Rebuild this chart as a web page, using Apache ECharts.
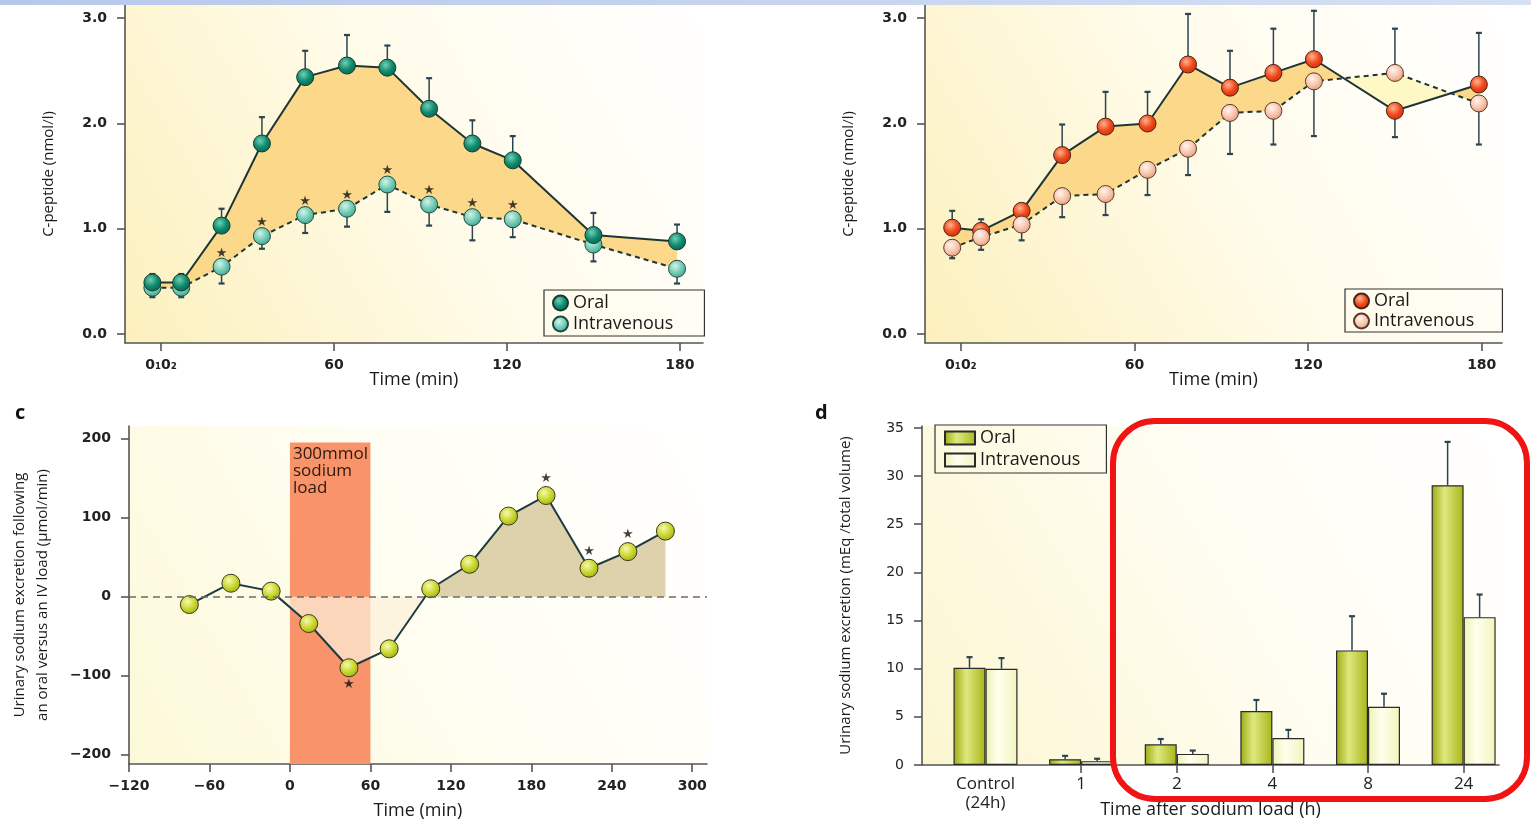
<!DOCTYPE html>
<html>
<head>
<meta charset="utf-8">
<script src="https://cdn.jsdelivr.net/npm/echarts@6.0.0/dist/echarts.min.js"></script>
<style>
  html, body { margin: 0; padding: 0; background: #fff; }
  #main { width: 1531px; height: 820px; }
</style>
</head>
<body>
<div id="main"></div>
<script>
// panels a & b: sampling times in minutes (first two are the 0_1 / 0_2 baseline samples)
var timesAB = [-3, 7, 21, 35, 50, 64.5, 78.5, 93, 108, 122, 150, 179];
var tickAB = [0, 60, 120, 180];

// panel a: C-peptide (nmol/l)
var oralA = [0.49, 0.49, 1.03, 1.81, 2.44, 2.55, 2.53, 2.14, 1.81, 1.65, 0.94, 0.88];
var ivA = [0.44, 0.44, 0.64, 0.93, 1.13, 1.19, 1.42, 1.23, 1.11, 1.09, 0.85, 0.62];
var oralTipA = [0.57, 0.57, 1.19, 2.06, 2.69, 2.84, 2.74, 2.43, 2.03, 1.88, 1.15, 1.04];
var ivTipA = [0.35, 0.35, 0.48, 0.81, 0.96, 1.02, 1.16, 1.03, 0.89, 0.92, 0.69, 0.48];
var starsA = [2, 3, 4, 5, 6, 7, 8, 9];

// panel b
var oralB = [1.01, 0.98, 1.17, 1.70, 1.97, 2.00, 2.56, 2.34, 2.48, 2.61, 2.12, 2.37];
var ivB = [0.82, 0.92, 1.04, 1.31, 1.33, 1.56, 1.76, 2.10, 2.12, 2.40, 2.48, 2.19];
var oralTipB = [1.17, 1.09, null, 1.99, 2.30, 2.30, 3.04, 2.69, 2.90, 3.07, 1.87, 2.86];
var ivTipB = [0.72, 0.80, 0.89, 1.11, 1.13, 1.32, 1.51, 1.71, 1.80, 1.88, 2.90, 1.80];

// panel c: oral minus IV urinary sodium excretion (umol/min)
var timesC = [-75, -44, -14, 14, 44, 74, 105, 134, 163, 191, 223, 252, 280];
var diffC = [-10, 17, 7, -34, -90, -66, 10, 41, 102, 128, 36, 57, 83];
var starsAboveC = [9, 10, 11];
var starsBelowC = [4];
var tickCx = [-120, -60, 0, 60, 120, 180, 240, 300];
var tickCy = [-200, -100, 0, 100, 200];

// panel d: urinary sodium excretion (mEq/total volume)
var catsD = ['Control\n(24h)', '1', '2', '4', '8', '24'];
var oralD = [10.1, 0.6, 2.15, 5.6, 11.9, 29.05];
var ivD = [10.0, 0.4, 1.15, 2.8, 6.05, 15.35];
var oralTipD = [11.2, 0.95, 2.7, 6.75, 15.45, 33.55];
var ivTipD = [11.1, 0.65, 1.5, 3.65, 7.4, 17.7];
var tickDy = [0, 5, 10, 15, 20, 25, 30, 35];

var FONT = 'Open Sans';
var NUM_FONT = 'DejaVu Sans';
var AXIS_C = '#555';
var ERR_C = '#2c4450';

function zip(xs, ys) {
    return xs.map(function (x, i) { return [x, ys[i]]; });
}
function errData(xs, vals, tips) {
    var out = [];
    xs.forEach(function (x, i) {
        if (tips[i] != null) out.push([x, vals[i], tips[i]]);
    });
    return out;
}
function pairs(xs, a, b, from) {
    var out = [];
    for (var i = from; i < xs.length - 1; i++) {
        out.push([xs[i], a[i], b[i], xs[i + 1], a[i + 1], b[i + 1]]);
    }
    return out;
}
function radial(c0, c1, c2) {
    return {
        type: 'radial', x: 0.4, y: 0.35, r: 0.7,
        colorStops: [{ offset: 0, color: c0 }, { offset: 0.55, color: c1 }, { offset: 1, color: c2 }]
    };
}
function diag(c0, c1) {
    return new echarts.graphic.LinearGradient(0, 1, 1, 0, [
        { offset: 0, color: c0 }, { offset: 0.55, color: c1 }, { offset: 1, color: '#ffffff' }
    ]);
}

// area between curve a and curve b, one polygon per run where the sign of (a - b) stays the same
function fillRuns(xs, a, b, from, posColor, negColor) {
    return function (params, api) {
        if (params.dataIndex !== 0) return;
        function P(x, y) { return api.coord([x, y]); }
        var polys = [], top = [], bot = [], sign = null;
        function flush() {
            if (top.length > 1) {
                polys.push({
                    type: 'polygon',
                    shape: { points: top.concat(bot.slice().reverse()) },
                    style: { fill: sign > 0 ? posColor : negColor }
                });
            }
        }
        for (var i = from; i < xs.length; i++) {
            var d = a[i] - b[i];
            var s = d >= 0 ? 1 : -1;
            if (sign === null) {
                sign = s; top = [P(xs[i], a[i])]; bot = [P(xs[i], b[i])];
                continue;
            }
            if (s !== sign) {
                var d0 = a[i - 1] - b[i - 1];
                var t = d0 / (d0 - d);
                var pc = P(xs[i - 1] + t * (xs[i] - xs[i - 1]), a[i - 1] + t * (a[i] - a[i - 1]));
                top.push(pc); bot.push(pc);
                flush();
                sign = s; top = [pc]; bot = [pc];
            }
            top.push(P(xs[i], a[i])); bot.push(P(xs[i], b[i]));
        }
        flush();
        return { type: 'group', children: polys };
    };
}

function errBars(dx) {
    return function (params, api) {
        var x = api.value(0);
        var p0 = api.coord([x, api.value(1)]);
        var p1 = api.coord([x, api.value(2)]);
        return {
            type: 'group', children: [
                { type: 'line', shape: { x1: p0[0] + dx, y1: p0[1], x2: p1[0] + dx, y2: p1[1] }, style: { stroke: ERR_C, lineWidth: 1.5 } },
                { type: 'line', shape: { x1: p1[0] + dx - 3, y1: p1[1], x2: p1[0] + dx + 3, y2: p1[1] }, style: { stroke: ERR_C, lineWidth: 2.2 } }
            ]
        };
    };
}

function numLabel(ticks, fmt, margin, bold) {
    return {
        customValues: ticks, formatter: fmt, margin: margin,
        color: '#222', fontSize: 14, fontWeight: bold === false ? 'normal' : 'bold', fontFamily: NUM_FONT
    };
}
function valAxis(grid, min, max, ticks, fmt, extra) {
    var ax = {
        type: 'value', gridIndex: grid, min: min, max: max,
        axisLine: { show: true, onZero: false, lineStyle: { color: AXIS_C, width: 1.6 } },
        axisTick: { show: true, customValues: ticks, length: 8, lineStyle: { color: AXIS_C, width: 1.6 } },
        axisLabel: numLabel(ticks, fmt, 15),
        splitLine: { show: false },
        nameLocation: 'middle',
        nameMoveOverlap: false,
        nameTextStyle: { color: '#1a1a1a', fontSize: 18, fontFamily: FONT }
    };
    return Object.assign(ax, extra || {});
}

var fmtMin = function (v) { return v === 0 ? '0\u20810\u2082' : String(v); };
var fmtOne = function (v) { return v.toFixed(1); };
var fmtSigned = function (v) { return v < 0 ? '\u2212' + Math.abs(v) : String(v); };
var yNameStyle = { color: '#1a1a1a', fontSize: 15, fontFamily: FONT, lineHeight: 23 };

function errSeries(x, y, data, dx, z) {
    return {
        type: 'custom', xAxisIndex: x, yAxisIndex: y, z: z || 2, silent: true,
        renderItem: errBars(dx || 0), data: data
    };
}
function fillSeries(x, y, xs, a, b, from, pos, neg, z) {
    return {
        type: 'custom', xAxisIndex: x, yAxisIndex: y, z: z || 1, silent: true,
        encode: { x: [0, 3], y: [1, 2, 4, 5] },
        renderItem: fillRuns(xs, a, b, from, pos, neg),
        data: pairs(xs, a, b, from)
    };
}
function starSeries(x, y, pts, pos, dist) {
    return {
        type: 'scatter', xAxisIndex: x, yAxisIndex: y, z: 5, silent: true,
        symbolSize: 0, data: pts,
        label: { show: true, formatter: '\u2605', position: pos, distance: dist, fontSize: 13, color: '#111', fontFamily: 'DejaVu Sans' }
    };
}
function curve(name, x, y, xs, ys, grad, border, dashed, z) {
    return {
        name: name, type: 'line', xAxisIndex: x, yAxisIndex: y, z: z,
        data: zip(xs, ys), symbol: 'circle', symbolSize: 17,
        lineStyle: { color: '#1e3535', width: 2, type: dashed ? [5, 4] : 'solid' },
        itemStyle: { color: grad, borderColor: border, borderWidth: 1 }
    };
}

var gOralA = radial('#6fd0b6', '#0f8a6d', '#0a6450');
var gIvA = radial('#d2f4ea', '#72cbb5', '#3da38c');
var gOralB = radial('#ffb590', '#f0481a', '#cc2f0c');
var gIvB = radial('#fff4ee', '#f8c6ad', '#e39a7a');
var gC = radial('#f6f9b0', '#cad72f', '#a2ae16');
var gBarOral = new echarts.graphic.LinearGradient(0, 0, 1, 0, [
    { offset: 0, color: '#9dab10' }, { offset: 0.4, color: '#dfe87e' }, { offset: 1, color: '#a7b61a' }
]);
var gBarIv = new echarts.graphic.LinearGradient(0, 0, 1, 0, [
    { offset: 0, color: '#eef2b4' }, { offset: 0.4, color: '#ffffee' }, { offset: 1, color: '#f1f4bd' }
]);

var yMinC = -211.8;
var legendText = { fontSize: 18, color: '#1a1a1a', fontFamily: FONT };
var stripName = function (n) { return n.split(':')[1]; };
var baseGrid = { show: true, borderWidth: 0, outerBoundsMode: 'none', containLabel: false };

var chart = echarts.init(document.getElementById('main'));
chart.setOption({
    animation: false,
    backgroundColor: '#ffffff',
    title: [
        { text: 'c', left: 10, top: 398, textStyle: { fontSize: 20, fontWeight: 'bold', fontFamily: FONT, color: '#111' } },
        { text: 'd', left: 810, top: 398, textStyle: { fontSize: 20, fontWeight: 'bold', fontFamily: FONT, color: '#111' } }
    ],
    grid: [
        Object.assign({ left: 125, top: 5, width: 578, height: 338, backgroundColor: diag('#fcf0bd', '#fffcec') }, baseGrid),
        Object.assign({ left: 925, top: 5, width: 577, height: 338, backgroundColor: diag('#fcf0bd', '#fffcec') }, baseGrid),
        Object.assign({ left: 129, top: 426, width: 578, height: 338, backgroundColor: diag('#fcf9d8', '#fffef4') }, baseGrid),
        Object.assign({ left: 922, top: 426, width: 577, height: 339, backgroundColor: diag('#fbf6d0', '#fffdf2') }, baseGrid)
    ],
    legend: [
        {
            left: 544, top: 290, orient: 'vertical', selectedMode: false,
            data: ['a:Oral', 'a:Intravenous'], formatter: stripName, icon: 'circle',
            itemWidth: 15, itemHeight: 15, itemGap: 3, padding: [4, 31, 3, 8],
            borderColor: '#333', borderWidth: 1.2, textStyle: legendText
        },
        {
            left: 1345, top: 289, orient: 'vertical', selectedMode: false,
            data: ['b:Oral', 'b:Intravenous'], formatter: stripName, icon: 'circle',
            itemWidth: 15, itemHeight: 15, itemGap: 2, padding: [3, 28, 2, 8],
            borderColor: '#333', borderWidth: 1.2, textStyle: legendText
        },
        {
            left: 935, top: 425, orient: 'vertical', selectedMode: false,
            data: ['d:Oral', 'd:Intravenous'], formatter: stripName, icon: 'rect',
            itemWidth: 30, itemHeight: 13, itemGap: 4, padding: [4, 26, 4, 9],
            borderColor: '#333', borderWidth: 1.2, textStyle: legendText
        }
    ],
    xAxis: [
        valAxis(0, -12.5, 188, tickAB, fmtMin, { name: 'Time (min)', nameGap: 28 }),
        valAxis(1, -12.4, 187, tickAB, fmtMin, { name: 'Time (min)', nameGap: 28 }),
        valAxis(2, -120, 311, tickCx, fmtSigned, { name: 'Time (min)', nameGap: 38 }),
        valAxis(3, -0.664, 5.37, [1, 2, 3, 4, 5], null, {
            name: 'Time after sodium load (h)', nameGap: 36,
            axisLabel: {
                customValues: [0, 1, 2, 3, 4, 5], formatter: function (v) { return catsD[v]; },
                margin: 10, color: '#222', fontSize: 17, fontFamily: FONT, lineHeight: 19, verticalAlign: 'top'
            }
        })
    ],
    yAxis: [
        valAxis(0, -0.085, 3.125, [0, 1, 2, 3], fmtOne, { name: 'C-peptide (nmol/l)', nameGap: 65, nameTextStyle: yNameStyle, axisLabel: numLabel([0, 1, 2, 3], fmtOne, 18) }),
        valAxis(1, -0.085, 3.125, [0, 1, 2, 3], fmtOne, { name: 'C-peptide (nmol/l)', nameGap: 65, nameTextStyle: yNameStyle, axisLabel: numLabel([0, 1, 2, 3], fmtOne, 18) }),
        valAxis(2, yMinC, 216, tickCy, fmtSigned, {
            name: 'Urinary sodium excretion following\nan oral versus an IV load (\u00b5mol/min)', nameGap: 75,
            nameTextStyle: yNameStyle, axisLabel: numLabel(tickCy, fmtSigned, 18)
        }),
        valAxis(3, 0, 35.2, tickDy, String, {
            name: 'Urinary sodium excretion (mEq /total volume)', nameGap: 65,
            nameTextStyle: yNameStyle, axisLabel: numLabel(tickDy, String, 18, false)
        })
    ],
    series: [
        // ---- panel a
        fillSeries(0, 0, timesAB, oralA, ivA, 0, '#fcd98a', '#fdf6c0'),
        errSeries(0, 0, errData(timesAB, oralA, oralTipA)),
        errSeries(0, 0, errData(timesAB, ivA, ivTipA)),
        curve('a:Intravenous', 0, 0, timesAB, ivA, gIvA, '#1f4a40', true, 3),
        curve('a:Oral', 0, 0, timesAB, oralA, gOralA, '#153a32', false, 3),
        starSeries(0, 0, starsA.map(function (i) { return [timesAB[i], ivA[i]]; }), 'top', 7),

        // ---- panel b
        fillSeries(1, 1, timesAB, oralB, ivB, 0, '#fcd98a', '#fdf8c4'),
        errSeries(1, 1, errData(timesAB, oralB, oralTipB)),
        errSeries(1, 1, errData(timesAB, ivB, ivTipB)),
        curve('b:Oral', 1, 1, timesAB, oralB, gOralB, '#4a2418', false, 3),
        curve('b:Intravenous', 1, 1, timesAB, ivB, gIvB, '#5a3828', true, 3),

        // ---- panel c
        { type: 'line', xAxisIndex: 2, yAxisIndex: 2, z: 1, silent: true, symbol: 'none',
          lineStyle: { opacity: 0 }, data: zip(timesC, diffC),
          markArea: {
              silent: true,
              itemStyle: { color: '#f9936a' },
              label: { show: true, position: 'insideTopLeft', distance: 3, color: '#2a1a10', fontSize: 17, lineHeight: 17, fontFamily: FONT },
              data: [[{ xAxis: 0, yAxis: yMinC, name: '300mmol\nsodium\nload' }, { xAxis: 60, yAxis: 195 }]]
          } },
        fillSeries(2, 2, timesC, diffC, diffC.map(function () { return 0; }), 2, '#ddd2ac', 'rgba(252,240,218,0.72)', 2),
        { type: 'line', xAxisIndex: 2, yAxisIndex: 2, z: 4,
          data: zip(timesC, diffC), symbol: 'circle', symbolSize: 18,
          lineStyle: { color: '#1d3a40', width: 2 },
          itemStyle: { color: gC, borderColor: '#3a3a1c', borderWidth: 1 },
          markLine: {
              silent: true, symbol: ['none', 'none'], label: { show: false },
              lineStyle: { type: [7, 5], color: '#6b6b6b', width: 1.6 },
              data: [{ yAxis: 0 }]
          } },
        starSeries(2, 2, starsAboveC.map(function (i) { return [timesC[i], diffC[i]]; }), 'top', 10),
        starSeries(2, 2, starsBelowC.map(function (i) { return [timesC[i], diffC[i]]; }), 'bottom', 10),

        // ---- panel d
        { name: 'd:Oral', type: 'bar', xAxisIndex: 3, yAxisIndex: 3, z: 2, barWidth: 32, barGap: '0%',
          data: zip([0, 1, 2, 3, 4, 5], oralD),
          itemStyle: { color: gBarOral, borderColor: '#2a2a2a', borderWidth: 1.2 } },
        { name: 'd:Intravenous', type: 'bar', xAxisIndex: 3, yAxisIndex: 3, z: 2, barWidth: 32, barGap: '0%',
          data: zip([0, 1, 2, 3, 4, 5], ivD),
          itemStyle: { color: gBarIv, borderColor: '#2a2a2a', borderWidth: 1.2 } },
        errSeries(3, 3, errData([0, 1, 2, 3, 4, 5], oralD, oralTipD), -16, 3),
        errSeries(3, 3, errData([0, 1, 2, 3, 4, 5], ivD, ivTipD), 16, 3)
    ],
    graphic: [
        {
            type: 'rect', left: 0, top: 0, z: 10, silent: true,
            shape: { width: 1531, height: 5 },
            style: { fill: new echarts.graphic.LinearGradient(0, 0, 1, 0, [{ offset: 0, color: '#b7c8ea' }, { offset: 1, color: '#d6e0f3' }]) }
        },
        {
            type: 'rect', z: 10, silent: true,
            shape: { x: 1113, y: 421, width: 414, height: 378, r: 42 },
            style: { fill: 'none', stroke: '#f01414', lineWidth: 6 }
        }
    ]
});
</script>
</body>
</html>
